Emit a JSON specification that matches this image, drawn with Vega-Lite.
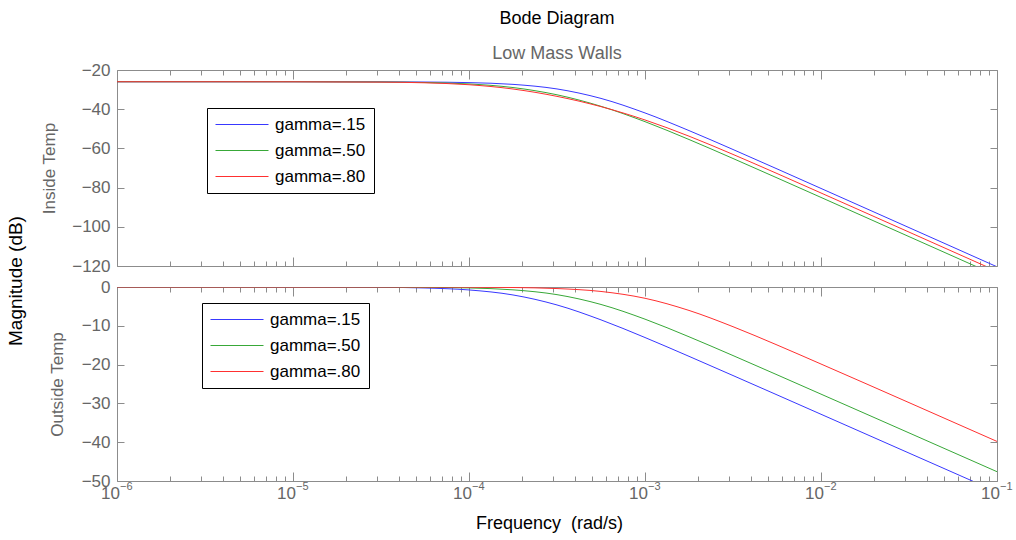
{
  "$schema": "https://vega.github.io/schema/vega-lite/v6.json",
  "background": "white",
  "padding": {"left": 7, "right": 6, "top": 9, "bottom": 2},
  "title": {"text": "Magnitude (dB)", "orient": "left", "anchor": "middle", "offset": 14, "dx": -10, "fontSize": 19, "fontWeight": "normal", "color": "black", "font": "Liberation Sans"},
  "spacing": 2,
  "resolve": {"scale": {"color": "independent"}, "legend": {"color": "independent"}},
  "config": {
    "font": "Liberation Sans",
    "view": {"stroke": "#8c8c8c", "strokeWidth": 1},
    "axis": {"domain": false, "grid": false, "tickColor": "#8c8c8c", "tickWidth": 1, "labelColor": "#666666", "labelFontSize": 17, "labelFont": "Liberation Sans", "titleFont": "Liberation Sans", "titleFontSize": 17, "titleFontWeight": "normal", "titleColor": "#666666", "labelFlush": false, "labelOverlap": false, "labelBound": false},
    "legend": {"labelFont": "Liberation Sans", "labelFontSize": 17, "labelColor": "black", "strokeColor": "black", "fillColor": "white", "padding": 8, "rowPadding": 8, "symbolType": "stroke", "symbolSize": 2809, "symbolStrokeWidth": 1, "clipHeight": 17, "labelOffset": 6, "cornerRadius": 0}
  },
  "datasets": {
    "inside": [
      {"f":1e-6,"g":"gamma=.15","v":-26},{"f":3.1623e-6,"g":"gamma=.15","v":-26},{"f":1e-5,"g":"gamma=.15","v":-26},{"f":3.1623e-5,"g":"gamma=.15","v":-26.05},{"f":5.6234e-5,"g":"gamma=.15","v":-26.14},{"f":1e-4,"g":"gamma=.15","v":-26.44},{"f":1.7783e-4,"g":"gamma=.15","v":-27.33},{"f":3.1623e-4,"g":"gamma=.15","v":-29.67},{"f":5.6234e-4,"g":"gamma=.15","v":-34.5},{"f":1e-3,"g":"gamma=.15","v":-41.91},{"f":1.7783e-3,"g":"gamma=.15","v":-50.91},{"f":3.1623e-3,"g":"gamma=.15","v":-60.56},{"f":5.6234e-3,"g":"gamma=.15","v":-70.45},{"f":1e-2,"g":"gamma=.15","v":-80.42},{"f":1.7783e-2,"g":"gamma=.15","v":-90.41},{"f":3.1623e-2,"g":"gamma=.15","v":-100.4},{"f":5.6234e-2,"g":"gamma=.15","v":-110.4},{"f":0.1,"g":"gamma=.15","v":-120.4},
      {"f":1e-6,"g":"gamma=.50","v":-26},{"f":3.1623e-6,"g":"gamma=.50","v":-26},{"f":1e-5,"g":"gamma=.50","v":-26.01},{"f":3.1623e-5,"g":"gamma=.50","v":-26.12},{"f":5.6234e-5,"g":"gamma=.50","v":-26.38},{"f":1e-4,"g":"gamma=.50","v":-27.11},{"f":1.7783e-4,"g":"gamma=.50","v":-28.95},{"f":3.1623e-4,"g":"gamma=.50","v":-32.65},{"f":5.6234e-4,"g":"gamma=.50","v":-38.52},{"f":1e-3,"g":"gamma=.50","v":-46.36},{"f":1.7783e-3,"g":"gamma=.50","v":-55.46},{"f":3.1623e-3,"g":"gamma=.50","v":-65.15},{"f":5.6234e-3,"g":"gamma=.50","v":-75.04},{"f":1e-2,"g":"gamma=.50","v":-85.01},{"f":1.7783e-2,"g":"gamma=.50","v":-95},{"f":3.1623e-2,"g":"gamma=.50","v":-105},{"f":5.6234e-2,"g":"gamma=.50","v":-115},{"f":0.1,"g":"gamma=.50","v":-125},
      {"f":1e-6,"g":"gamma=.80","v":-26},{"f":3.1623e-6,"g":"gamma=.80","v":-26},{"f":1e-5,"g":"gamma=.80","v":-26.02},{"f":3.1623e-5,"g":"gamma=.80","v":-26.18},{"f":5.6234e-5,"g":"gamma=.80","v":-26.53},{"f":1e-4,"g":"gamma=.80","v":-27.51},{"f":1.7783e-4,"g":"gamma=.80","v":-29.7},{"f":3.1623e-4,"g":"gamma=.80","v":-33.45},{"f":5.6234e-4,"g":"gamma=.80","v":-38.7},{"f":1e-3,"g":"gamma=.80","v":-45.49},{"f":1.7783e-3,"g":"gamma=.80","v":-53.76},{"f":3.1623e-3,"g":"gamma=.80","v":-63.07},{"f":5.6234e-3,"g":"gamma=.80","v":-72.81},{"f":1e-2,"g":"gamma=.80","v":-82.74},{"f":1.7783e-2,"g":"gamma=.80","v":-92.71},{"f":3.1623e-2,"g":"gamma=.80","v":-102.7},{"f":5.6234e-2,"g":"gamma=.80","v":-112.7},{"f":0.1,"g":"gamma=.80","v":-122.7}
    ],
    "outside": [
      {"f":1e-6,"g":"gamma=.15","v":0},{"f":3.1623e-6,"g":"gamma=.15","v":0},{"f":1e-5,"g":"gamma=.15","v":-0.01},{"f":3.1623e-5,"g":"gamma=.15","v":-0.08},{"f":5.6234e-5,"g":"gamma=.15","v":-0.25},{"f":1e-4,"g":"gamma=.15","v":-0.76},{"f":1.7783e-4,"g":"gamma=.15","v":-2.05},{"f":3.1623e-4,"g":"gamma=.15","v":-4.63},{"f":5.6234e-4,"g":"gamma=.15","v":-8.47},{"f":1e-3,"g":"gamma=.15","v":-13.02},{"f":1.7783e-3,"g":"gamma=.15","v":-17.87},{"f":3.1623e-3,"g":"gamma=.15","v":-22.82},{"f":5.6234e-3,"g":"gamma=.15","v":-27.8},{"f":1e-2,"g":"gamma=.15","v":-32.8},{"f":1.7783e-2,"g":"gamma=.15","v":-37.8},{"f":3.1623e-2,"g":"gamma=.15","v":-42.8},{"f":5.6234e-2,"g":"gamma=.15","v":-47.8},{"f":0.1,"g":"gamma=.15","v":-52.8},
      {"f":1e-6,"g":"gamma=.50","v":0},{"f":3.1623e-6,"g":"gamma=.50","v":0},{"f":1e-5,"g":"gamma=.50","v":0},{"f":3.1623e-5,"g":"gamma=.50","v":-0.03},{"f":5.6234e-5,"g":"gamma=.50","v":-0.08},{"f":1e-4,"g":"gamma=.50","v":-0.24},{"f":1.7783e-4,"g":"gamma=.50","v":-0.73},{"f":3.1623e-4,"g":"gamma=.50","v":-1.97},{"f":5.6234e-4,"g":"gamma=.50","v":-4.5},{"f":1e-3,"g":"gamma=.50","v":-8.29},{"f":1.7783e-3,"g":"gamma=.50","v":-12.83},{"f":3.1623e-3,"g":"gamma=.50","v":-17.67},{"f":5.6234e-3,"g":"gamma=.50","v":-22.62},{"f":1e-2,"g":"gamma=.50","v":-27.61},{"f":1.7783e-2,"g":"gamma=.50","v":-32.6},{"f":3.1623e-2,"g":"gamma=.50","v":-37.6},{"f":5.6234e-2,"g":"gamma=.50","v":-42.6},{"f":0.1,"g":"gamma=.50","v":-47.6},
      {"f":1e-6,"g":"gamma=.80","v":0},{"f":3.1623e-6,"g":"gamma=.80","v":0},{"f":1e-5,"g":"gamma=.80","v":0},{"f":3.1623e-5,"g":"gamma=.80","v":0},{"f":5.6234e-5,"g":"gamma=.80","v":-0.01},{"f":1e-4,"g":"gamma=.80","v":-0.04},{"f":1.7783e-4,"g":"gamma=.80","v":-0.13},{"f":3.1623e-4,"g":"gamma=.80","v":-0.4},{"f":5.6234e-4,"g":"gamma=.80","v":-1.15},{"f":1e-3,"g":"gamma=.80","v":-2.91},{"f":1.7783e-3,"g":"gamma=.80","v":-6.04},{"f":3.1623e-3,"g":"gamma=.80","v":-10.23},{"f":5.6234e-3,"g":"gamma=.80","v":-14.94},{"f":1e-2,"g":"gamma=.80","v":-19.85},{"f":1.7783e-2,"g":"gamma=.80","v":-24.81},{"f":3.1623e-2,"g":"gamma=.80","v":-29.8},{"f":5.6234e-2,"g":"gamma=.80","v":-34.8},{"f":0.1,"g":"gamma=.80","v":-39.8}
    ]
  },
  "vconcat": [
    {
      "width": 880,
      "height": 196,
      "title": {"text": "Bode Diagram", "subtitle": "Low Mass Walls", "anchor": "middle", "fontSize": 18, "fontWeight": "normal", "color": "black", "font": "Liberation Sans", "subtitleFont": "Liberation Sans", "subtitleFontSize": 18, "subtitleColor": "#666666", "subtitlePadding": 17, "offset": -2},
      "data": {"name": "inside"},
      "layer": [
        {
          "mark": {"type": "line", "interpolate": "monotone", "clip": true, "strokeWidth": 1},
          "encoding": {
            "x": {"field": "f", "type": "quantitative", "scale": {"type": "log", "domain": [1e-6, 0.1], "nice": false}, "axis": {"orient": "bottom", "values": [1e-6, 1e-5, 1e-4, 1e-3, 1e-2, 0.1], "tickSize": -9, "labels": false, "title": null}},
            "y": {"field": "v", "type": "quantitative", "scale": {"domain": [-120, -20], "nice": false, "zero": false}, "axis": {"orient": "left", "values": [-120, -100, -80, -60, -40, -20], "tickSize": -7, "labelPadding": 14, "title": "Inside Temp", "titlePadding": 13}},
            "color": {"field": "g", "type": "nominal", "scale": {"domain": ["gamma=.15", "gamma=.50", "gamma=.80"], "range": ["#3838ff", "#38a838", "#ff3030"]}, "legend": {"orient": "none", "legendX": 90, "legendY": 38, "title": null, "labelFontSize": 17, "labelColor": "black", "symbolType": "stroke", "symbolSize": 2809, "symbolStrokeWidth": 1, "clipHeight": 17, "labelOffset": 6, "padding": 8, "rowPadding": 8, "strokeColor": "black", "fillColor": "white", "encode": {"symbols": {"enter": {"stroke": [{"test": "datum.value === 'gamma=.15'", "value": "#3838ff"}, {"test": "datum.value === 'gamma=.50'", "value": "#38a838"}, {"value": "#ff3030"}], "fill": {"value": "transparent"}}, "update": {"stroke": [{"test": "datum.value === 'gamma=.15'", "value": "#3838ff"}, {"test": "datum.value === 'gamma=.50'", "value": "#38a838"}, {"value": "#ff3030"}], "fill": {"value": "transparent"}, "opacity": {"value": 1}}}}}}
          }
        },
        {
          "mark": {"type": "line", "opacity": 0, "clip": true},
          "encoding": {
            "x": {"field": "f", "type": "quantitative", "scale": {"type": "log", "domain": [1e-6, 0.1], "nice": false}, "axis": {"orient": "bottom", "values": [2e-6,3e-6,4e-6,5e-6,6e-6,7e-6,8e-6,9e-6,2e-5,3e-5,4e-5,5e-5,6e-5,7e-5,8e-5,9e-5,2e-4,3e-4,4e-4,5e-4,6e-4,7e-4,8e-4,9e-4,2e-3,3e-3,4e-3,5e-3,6e-3,7e-3,8e-3,9e-3,2e-2,3e-2,4e-2,5e-2,6e-2,7e-2,8e-2,9e-2], "tickSize": -5, "labels": false, "title": null}},
            "y": {"field": "v", "type": "quantitative", "scale": {"domain": [-120, -20], "nice": false, "zero": false}, "axis": {"orient": "right", "values": [-120, -100, -80, -60, -40, -20], "tickSize": -7, "labels": false, "title": null}}
          }
        },
        {
          "mark": {"type": "line", "opacity": 0, "clip": true},
          "encoding": {
            "x": {"field": "f", "type": "quantitative", "scale": {"type": "log", "domain": [1e-6, 0.1], "nice": false}, "axis": {"orient": "top", "values": [1e-6, 1e-5, 1e-4, 1e-3, 1e-2, 0.1], "tickSize": -9, "labels": false, "title": null}},
            "y": {"field": "v", "type": "quantitative", "scale": {"domain": [-120, -20], "nice": false, "zero": false}, "axis": null}
          }
        },
        {
          "mark": {"type": "line", "opacity": 0, "clip": true},
          "encoding": {
            "x": {"field": "f", "type": "quantitative", "scale": {"type": "log", "domain": [1e-6, 0.1], "nice": false}, "axis": {"orient": "top", "values": [2e-6,3e-6,4e-6,5e-6,6e-6,7e-6,8e-6,9e-6,2e-5,3e-5,4e-5,5e-5,6e-5,7e-5,8e-5,9e-5,2e-4,3e-4,4e-4,5e-4,6e-4,7e-4,8e-4,9e-4,2e-3,3e-3,4e-3,5e-3,6e-3,7e-3,8e-3,9e-3,2e-2,3e-2,4e-2,5e-2,6e-2,7e-2,8e-2,9e-2], "tickSize": -5, "labels": false, "title": null}},
            "y": {"field": "v", "type": "quantitative", "scale": {"domain": [-120, -20], "nice": false, "zero": false}, "axis": null}
          }
        }
      ],
      "resolve": {"axis": {"x": "independent", "y": "independent"}}
    },
    {
      "width": 880,
      "height": 194,
      "data": {"name": "outside"},
      "layer": [
        {
          "mark": {"type": "line", "interpolate": "monotone", "clip": true, "strokeWidth": 1},
          "encoding": {
            "x": {"field": "f", "type": "quantitative", "scale": {"type": "log", "domain": [1e-6, 0.1], "nice": false}, "axis": {"orient": "bottom", "values": [1e-6, 1e-5, 1e-4, 1e-3, 1e-2, 0.1], "tickSize": -9, "labelPadding": 13, "labelAlign": "right", "labelOffset": 2.5, "labelExpr": "'10'", "title": "Frequency \u00a0(rad/s)", "titleColor": "black", "titleFontSize": 18, "titlePadding": 13, "titleX": 432}},
            "y": {"field": "v", "type": "quantitative", "scale": {"domain": [-50, 0], "nice": false, "zero": false}, "axis": {"orient": "left", "values": [-50, -40, -30, -20, -10, 0], "tickSize": -7, "labelPadding": 14, "title": "Outside Temp", "titlePadding": 15}},
            "color": {"field": "g", "type": "nominal", "scale": {"domain": ["gamma=.15", "gamma=.50", "gamma=.80"], "range": ["#3838ff", "#38a838", "#ff3030"]}, "legend": {"orient": "none", "legendX": 85, "legendY": 16, "title": null, "labelFontSize": 17, "labelColor": "black", "symbolType": "stroke", "symbolSize": 2809, "symbolStrokeWidth": 1, "clipHeight": 17, "labelOffset": 6, "padding": 8, "rowPadding": 8, "strokeColor": "black", "fillColor": "white", "encode": {"symbols": {"enter": {"stroke": [{"test": "datum.value === 'gamma=.15'", "value": "#3838ff"}, {"test": "datum.value === 'gamma=.50'", "value": "#38a838"}, {"value": "#ff3030"}], "fill": {"value": "transparent"}}, "update": {"stroke": [{"test": "datum.value === 'gamma=.15'", "value": "#3838ff"}, {"test": "datum.value === 'gamma=.50'", "value": "#38a838"}, {"value": "#ff3030"}], "fill": {"value": "transparent"}, "opacity": {"value": 1}}}}}}
          }
        },
        {
          "mark": {"type": "line", "opacity": 0, "clip": true},
          "encoding": {
            "x": {"field": "f", "type": "quantitative", "scale": {"type": "log", "domain": [1e-6, 0.1], "nice": false}, "axis": {"orient": "bottom", "values": [2e-6,3e-6,4e-6,5e-6,6e-6,7e-6,8e-6,9e-6,2e-5,3e-5,4e-5,5e-5,6e-5,7e-5,8e-5,9e-5,2e-4,3e-4,4e-4,5e-4,6e-4,7e-4,8e-4,9e-4,2e-3,3e-3,4e-3,5e-3,6e-3,7e-3,8e-3,9e-3,2e-2,3e-2,4e-2,5e-2,6e-2,7e-2,8e-2,9e-2], "tickSize": -5, "labels": false, "title": null}},
            "y": {"field": "v", "type": "quantitative", "scale": {"domain": [-50, 0], "nice": false, "zero": false}, "axis": {"orient": "right", "values": [-50, -40, -30, -20, -10, 0], "tickSize": -7, "labels": false, "title": null}}
          }
        },
        {
          "mark": {"type": "line", "opacity": 0, "clip": true},
          "encoding": {
            "x": {"field": "f", "type": "quantitative", "scale": {"type": "log", "domain": [1e-6, 0.1], "nice": false}, "axis": {"orient": "top", "values": [1e-6, 1e-5, 1e-4, 1e-3, 1e-2, 0.1], "tickSize": -9, "labels": false, "title": null}},
            "y": {"field": "v", "type": "quantitative", "scale": {"domain": [-50, 0], "nice": false, "zero": false}, "axis": null}
          }
        },
        {
          "mark": {"type": "line", "opacity": 0, "clip": true},
          "encoding": {
            "x": {"field": "f", "type": "quantitative", "scale": {"type": "log", "domain": [1e-6, 0.1], "nice": false}, "axis": {"orient": "top", "values": [2e-6,3e-6,4e-6,5e-6,6e-6,7e-6,8e-6,9e-6,2e-5,3e-5,4e-5,5e-5,6e-5,7e-5,8e-5,9e-5,2e-4,3e-4,4e-4,5e-4,6e-4,7e-4,8e-4,9e-4,2e-3,3e-3,4e-3,5e-3,6e-3,7e-3,8e-3,9e-3,2e-2,3e-2,4e-2,5e-2,6e-2,7e-2,8e-2,9e-2], "tickSize": -5, "labels": false, "title": null}},
            "y": {"field": "v", "type": "quantitative", "scale": {"domain": [-50, 0], "nice": false, "zero": false}, "axis": null}
          }
        },
        {
          "mark": {"type": "line", "opacity": 0, "clip": true},
          "encoding": {
            "x": {"field": "f", "type": "quantitative", "scale": {"type": "log", "domain": [1e-6, 0.1], "nice": false}, "axis": {"orient": "bottom", "values": [1e-6, 1e-5, 1e-4, 1e-3, 1e-2, 0.1], "ticks": false, "labelPadding": 8, "labelBaseline": "alphabetic", "labelAlign": "left", "labelOffset": 2.5, "labelFontSize": 11, "labelExpr": "['−6','−5','−4','−3','−2','−1'][round(log(datum.value)/LN10) + 6]", "title": null}},
            "y": {"field": "v", "type": "quantitative", "scale": {"domain": [-50, 0], "nice": false, "zero": false}, "axis": null}
          }
        }
      ],
      "resolve": {"axis": {"x": "independent", "y": "independent"}}
    }
  ]
}
